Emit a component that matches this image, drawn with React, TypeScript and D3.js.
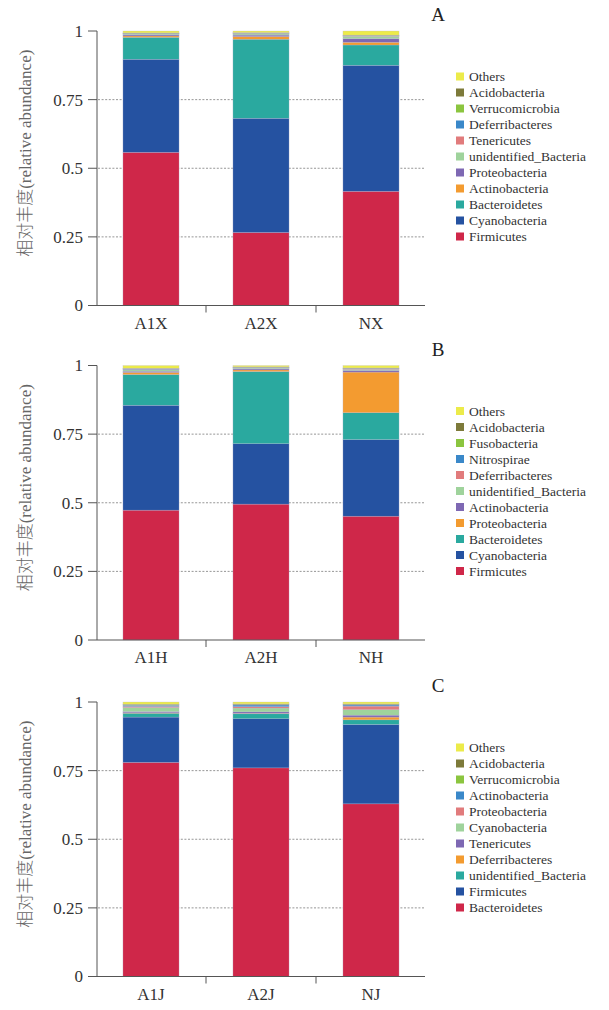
import React from "react";
import * as d3 from "d3";

// Positional palette: index 0 is the bottom segment / last legend row.
const palette = [
  "#cf2749", // 1st layer
  "#2552a1", // 2nd
  "#2aa99f", // 3rd
  "#f39b30", // 4th
  "#7e68b3", // 5th
  "#9fd39c", // 6th
  "#e17b7c", // 7th
  "#3a88c9", // 8th
  "#8bc53f", // 9th
  "#7d7a3a", // 10th
  "#eceb4a", // Others
];

// Panel A — samples and phyla (bottom to top)
const groupsA = ["A1X", "A2X", "NX"];
const taxaA = [
  "Firmicutes", "Cyanobacteria", "Bacteroidetes", "Actinobacteria", "Proteobacteria",
  "unidentified_Bacteria", "Tenericutes", "Deferribacteres", "Verrucomicrobia",
  "Acidobacteria", "Others",
];
const valuesA = [
  [0.558, 0.266, 0.416],
  [0.339, 0.416, 0.459],
  [0.080, 0.288, 0.074],
  [0.005, 0.010, 0.010],
  [0.004, 0.005, 0.013],
  [0.003, 0.004, 0.009],
  [0.001, 0.002, 0.001],
  [0.001, 0.001, 0.001],
  [0.001, 0.001, 0.001],
  [0.001, 0.001, 0.001],
  [0.007, 0.006, 0.015],
];

// Panel B
const groupsB = ["A1H", "A2H", "NH"];
const taxaB = [
  "Firmicutes", "Cyanobacteria", "Bacteroidetes", "Proteobacteria", "Actinobacteria",
  "unidentified_Bacteria", "Deferribacteres", "Nitrospirae", "Fusobacteria",
  "Acidobacteria", "Others",
];
const valuesB = [
  [0.473, 0.495, 0.451],
  [0.382, 0.220, 0.279],
  [0.112, 0.263, 0.098],
  [0.008, 0.006, 0.148],
  [0.004, 0.004, 0.006],
  [0.005, 0.003, 0.004],
  [0.002, 0.001, 0.002],
  [0.002, 0.001, 0.001],
  [0.001, 0.001, 0.001],
  [0.001, 0.001, 0.001],
  [0.010, 0.005, 0.009],
];

// Panel C
const groupsC = ["A1J", "A2J", "NJ"];
const taxaC = [
  "Bacteroidetes", "Firmicutes", "unidentified_Bacteria", "Deferribacteres", "Tenericutes",
  "Cyanobacteria", "Proteobacteria", "Actinobacteria", "Verrucomicrobia",
  "Acidobacteria", "Others",
];
const valuesC = [
  [0.780, 0.760, 0.629],
  [0.165, 0.179, 0.289],
  [0.014, 0.018, 0.017],
  [0.002, 0.002, 0.010],
  [0.004, 0.005, 0.007],
  [0.015, 0.014, 0.020],
  [0.004, 0.005, 0.013],
  [0.004, 0.006, 0.004],
  [0.002, 0.002, 0.002],
  [0.002, 0.002, 0.002],
  [0.008, 0.007, 0.007],
];

const yTicks = [0, 0.25, 0.5, 0.75, 1];
const yTickLabels = ["0", "0.25", "0.5", "0.75", "1"];

const WIDTH = 609;
const HEIGHT = 1010;
const AXIS_X = 97;
const AXIS_END = 425;
const PLOT_H = 274.5;
const SERIF = "Liberation Serif";
const CJK = "Noto Sans CJK SC";

type PanelProps = {
  top: number;
  letter: string;
  groups: string[];
  taxa: string[];
  values: number[][];
};

function Panel({ top, letter, groups, taxa, values }: PanelProps) {
  const y = d3.scaleLinear().domain([0, 1]).range([top + PLOT_H, top]);
  const x = d3
    .scaleBand<string>()
    .domain(groups)
    .range([AXIS_X - 1, AXIS_X - 1 + 330])
    .paddingInner(0.49)
    .paddingOuter(0.245);
  const bandStep = x.step();
  const rows = groups.map((g, gi) => {
    const r: Record<string, number | string> = { group: g };
    taxa.forEach((t, ti) => (r[t] = values[ti][gi]));
    return r;
  });
  const stack = d3.stack<Record<string, number | string>>().keys(taxa);
  const series = stack(rows as any);
  const y0 = y(0);
  const gridX0 = AXIS_X + 1;
  const boundaries = groups.slice(1).map((g) => (x(g) as number) - (bandStep * x.paddingInner()) / 2);
  const legendTop = top + 45.5;
  const legendOrder = taxa.map((t, i) => ({ t, i })).reverse();

  return (
    <g>
      {/* dotted reference lines */}
      {yTicks
        .filter((v) => v > 0 && v < 1)
        .map((v) => (
          <line
            key={"g" + v}
            x1={gridX0}
            x2={AXIS_END}
            y1={y(v)}
            y2={y(v)}
            stroke="#8a8a8a"
            strokeWidth={0.9}
            strokeDasharray="2,1.6"
          />
        ))}
      {/* stacked bars */}
      {series.map((s, si) => (
        <g key={s.key} fill={palette[si]}>
          {s.map((d, di) => (
            <rect
              key={di}
              x={x(groups[di]) as number}
              width={x.bandwidth()}
              y={y(d[1])}
              height={Math.max(0, y(d[0]) - y(d[1]))}
              stroke="rgba(190,185,215,0.55)"
              strokeWidth={0.5}
            />
          ))}
        </g>
      ))}
      {/* y axis */}
      <line x1={AXIS_X} x2={AXIS_X} y1={y(1)} y2={y0} stroke="#555" strokeWidth={1} />
      {yTicks.map((v, i) => (
        <g key={"t" + v}>
          <line x1={AXIS_X - 9} x2={AXIS_X} y1={y(v)} y2={y(v)} stroke="#555" strokeWidth={1} />
          <text
            x={AXIS_X - 14}
            y={y(v)}
            dy="0.35em"
            textAnchor="end"
            style={{ fontFamily: SERIF }}
            fontSize={17}
            fill="#333"
          >
            {yTickLabels[i]}
          </text>
        </g>
      ))}
      {/* x axis */}
      <line x1={AXIS_X} x2={AXIS_END} y1={y0} y2={y0} stroke="#555" strokeWidth={1} />
      {boundaries.map((bx, i) => (
        <line key={"b" + i} x1={bx} x2={bx} y1={y0} y2={y0 + 7} stroke="#555" strokeWidth={1} />
      ))}
      {groups.map((g) => (
        <text
          key={g}
          x={(x(g) as number) + x.bandwidth() / 2}
          y={y0 + 23}
          textAnchor="middle"
          style={{ fontFamily: SERIF }}
          fontSize={17}
          fill="#333"
        >
          {g}
        </text>
      ))}
      {/* y axis title */}
      <text
        transform={`translate(31,${top + PLOT_H / 2 - 15}) rotate(-90)`}
        textAnchor="middle"
        fontSize={17}
        fill="#666"
        style={{ fontFamily: SERIF }}
      >
        <tspan style={{ fontFamily: CJK, fontWeight: 300 }}>相对丰度</tspan>
        <tspan style={{ fontFamily: SERIF }}>(relative abundance)</tspan>
      </text>
      {/* panel letter */}
      <text x={438} y={top - 10} textAnchor="middle" style={{ fontFamily: SERIF }} fontSize={19} fill="#222">
        {letter}
      </text>
      {/* legend */}
      {legendOrder.map(({ t, i }, row) => (
        <g key={"l" + t} transform={`translate(456,${legendTop + row * 16})`}>
          <rect x={0} y={-4} width={8} height={8} fill={palette[i]} />
          <text x={13} y={0} dy="0.35em" style={{ fontFamily: SERIF }} fontSize={13.5} fill="#333">
            {t}
          </text>
        </g>
      ))}
    </g>
  );
}

export default function App() {
  return (
    <svg
      width={WIDTH}
      height={HEIGHT}
      viewBox={`0 0 ${WIDTH} ${HEIGHT}`}
      style={{ position: "absolute", left: 0, top: 0, background: "#fff" }}
    >
      <rect width={WIDTH} height={HEIGHT} fill="#fff" />
      <Panel top={31} letter="A" groups={groupsA} taxa={taxaA} values={valuesA} />
      <Panel top={365.5} letter="B" groups={groupsB} taxa={taxaB} values={valuesB} />
      <Panel top={702} letter="C" groups={groupsC} taxa={taxaC} values={valuesC} />
    </svg>
  );
}
